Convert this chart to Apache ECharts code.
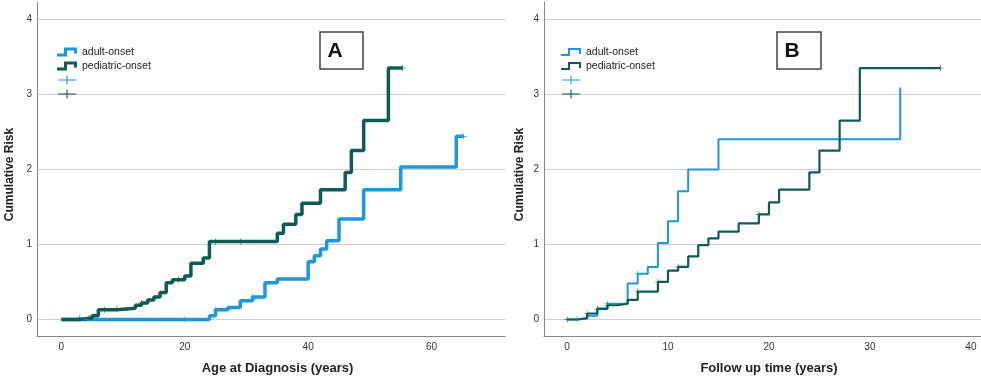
<!DOCTYPE html>
<html>
<head>
<meta charset="utf-8">
<script src="https://cdn.jsdelivr.net/npm/echarts@6/dist/echarts.min.js"></script>
<style>
  html, body { margin: 0; padding: 0; background: #fff; }
  #main { width: 981px; height: 380px; }
</style>
</head>
<body>
<div id="main"></div>
<script>
// panel A : age at diagnosis
var pedAgeX = [0, 3, 5, 6, 9, 12, 13, 14, 15, 16, 17, 18, 20, 21, 23, 24, 35, 36, 38, 39, 42, 46, 47, 49, 53, 55.3];
var pedAgeY = [0, 0.02, 0.05, 0.13, 0.15, 0.19, 0.22, 0.26, 0.30, 0.36, 0.49, 0.53, 0.58, 0.75, 0.82, 1.04, 1.15, 1.27, 1.40, 1.55, 1.73, 1.96, 2.25, 2.65, 3.35, 3.35];
var adultAgeX = [0, 24, 25, 27, 29, 31, 33, 35, 40, 41, 42, 43, 45, 49, 55, 64, 65.2];
var adultAgeY = [0, 0.05, 0.13, 0.16, 0.25, 0.30, 0.49, 0.54, 0.77, 0.85, 0.94, 1.05, 1.34, 1.73, 2.03, 2.44, 2.44];
var pedAgeCensX = [3, 4.5, 7, 9, 13, 19, 25, 29, 55.3];
var pedAgeCensY = [0.02, 0.02, 0.13, 0.15, 0.22, 0.53, 1.04, 1.04, 3.35];
var adultAgeCensX = [4, 20, 25, 31, 44, 65.2];
var adultAgeCensY = [0, 0, 0.13, 0.30, 1.05, 2.44];

// panel B : follow up time
var pedFuX = [0, 1, 2, 3, 4, 5, 6, 7, 9, 10, 11, 12, 13, 14, 15, 17, 19, 20, 21, 24, 25, 27, 29, 37];
var pedFuY = [0, 0.02, 0.08, 0.14, 0.19, 0.21, 0.26, 0.37, 0.50, 0.65, 0.70, 0.84, 0.99, 1.08, 1.17, 1.28, 1.40, 1.56, 1.73, 1.96, 2.25, 2.65, 3.35, 3.35];
var adultFuX = [0, 1, 2, 3, 4, 6, 7, 8, 9, 10, 11, 12, 15, 33];
var adultFuY = [0, 0.01, 0.05, 0.15, 0.21, 0.48, 0.61, 0.70, 1.02, 1.31, 1.71, 2.00, 2.40, 3.09];
var pedFuCensX = [0, 2, 3, 4, 7, 9, 11, 19, 37];
var pedFuCensY = [0, 0.08, 0.14, 0.19, 0.37, 0.50, 0.70, 1.40, 3.35];
var adultFuCensX = [1, 4, 7];
var adultFuCensY = [0.01, 0.21, 0.61];

var yTicks = [0, 1, 2, 3, 4];
var xTicksA = [0, 20, 40, 60];
var xTicksB = [0, 10, 20, 30, 40];

var blue = '#1e96e0';
var teal = '#0f5c55';
var stepIconA = 'path://M0,6H7V0H20V6H17V3H10V9H0Z';
var stepIconB = 'path://M0,6H7V0H20V6H18V2H9V8H0Z';
var plusIcon = 'path://M0,4.4H20V5.6H0Z M9.4,0H10.6V10H9.4Z';
var censSymbol = 'path://M0,4.5H10V5.5H0Z M4.5,0H5.5V10H4.5Z';

function pairs(xs, ys) {
    var out = [];
    for (var i = 0; i < xs.length; i++) out.push([xs[i], ys[i]]);
    return out;
}

function xAxisOf(grid, min, max, ticks, name, px) {
    return {
        type: 'value', gridIndex: grid, min: min, max: max,
        name: name, nameLocation: 'middle', nameGap: 26,
        nameTextStyle: { color: '#222', fontSize: 13, fontWeight: 'bold', padding: [0, 0, 0, px] },
        axisLine: { onZero: false, lineStyle: { color: '#888' } },
        axisTick: { show: false, customValues: ticks },
        axisLabel: { customValues: ticks, color: '#333', fontSize: 10, margin: 6 },
        splitLine: { show: false }
    };
}

function yAxisOf(grid, gap) {
    return {
        type: 'value', gridIndex: grid, min: -0.22, max: 4.23,
        name: 'Cumulative Risk', nameLocation: 'middle', nameGap: gap,
        nameTextStyle: { color: '#222', fontSize: 12, fontWeight: 'bold', padding: [0, 0, 0, -11] },
        axisLine: { show: true, onZero: false, lineStyle: { color: '#888' } },
        axisTick: { show: false, customValues: yTicks },
        axisLabel: { customValues: yTicks, color: '#333', fontSize: 10, margin: 5 },
        splitLine: { show: true, lineStyle: { color: '#cfcfcf', width: 1 } }
    };
}

function stepLine(name, color, width, xi, data) {
    return {
        name: name, type: 'line', step: 'end', xAxisIndex: xi, yAxisIndex: xi,
        data: data, showSymbol: false, symbol: 'none',
        color: color, itemStyle: { color: color },
        lineStyle: { color: color, width: width }, z: 3
    };
}

function censors(name, color, size, xi, data) {
    return {
        name: name, type: 'scatter', xAxisIndex: xi, yAxisIndex: xi,
        data: data, symbol: censSymbol, symbolSize: size,
        color: color, itemStyle: { color: color, opacity: 1 }, z: 4
    };
}

function legendOf(left, icon) {
    return {
        orient: 'vertical', left: left, top: 41,
        itemWidth: 20, itemHeight: 9, itemGap: 2,
        textStyle: { color: '#222', fontSize: 10.5, lineHeight: 12 },
        formatter: function (n) { return n.indexOf('cens') >= 0 ? ' ' : n; },
        selectedMode: false,
        data: [
            { name: 'adult-onset', icon: icon },
            { name: 'pediatric-onset', icon: icon },
            { name: 'adult-onset cens', icon: plusIcon, itemStyle: { color: blue, opacity: 1 } },
            { name: 'pediatric-onset cens', icon: plusIcon, itemStyle: { color: teal, opacity: 1 } }
        ]
    };
}

var myChart = echarts.init(document.getElementById('main'));
var option = {
    backgroundColor: '#fff',
    animation: false,
    textStyle: { fontFamily: 'Liberation Sans, Arial, sans-serif' },
    grid: [
        { left: 37, top: 2, width: 468, height: 335 },
        { left: 544, top: 2, width: 437, height: 335 }
    ],
    xAxis: [
        xAxisOf(0, -3.94, 71.9, xTicksA, 'Age at Diagnosis (years)', 13),
        xAxisOf(1, -2.28, 41.0, xTicksB, 'Follow up time (years)', 13)
    ],
    yAxis: [yAxisOf(0, 21), yAxisOf(1, 18)],
    legend: [legendOf(52, stepIconA), legendOf(556, stepIconB)],
    graphic: [
        { type: 'rect', shape: { x: 320, y: 32, width: 43, height: 37 },
          style: { fill: '#fff', stroke: '#444', lineWidth: 1.5 } },
        { type: 'text', x: 335, y: 51,
          style: { text: 'A', fill: '#111', font: 'bold 21px Liberation Sans, Arial', align: 'center', verticalAlign: 'middle' } },
        { type: 'rect', shape: { x: 777, y: 32, width: 44, height: 37 },
          style: { fill: '#fff', stroke: '#444', lineWidth: 1.5 } },
        { type: 'text', x: 792, y: 51,
          style: { text: 'B', fill: '#111', font: 'bold 21px Liberation Sans, Arial', align: 'center', verticalAlign: 'middle' } }
    ],
    series: [
        stepLine('adult-onset', blue, 3.5, 0, pairs(adultAgeX, adultAgeY)),
        stepLine('pediatric-onset', teal, 3.5, 0, pairs(pedAgeX, pedAgeY)),
        censors('adult-onset cens', blue, 6, 0, pairs(adultAgeCensX, adultAgeCensY)),
        censors('pediatric-onset cens', teal, 6, 0, pairs(pedAgeCensX, pedAgeCensY)),
        stepLine('adult-onset', blue, 2, 1, pairs(adultFuX, adultFuY)),
        stepLine('pediatric-onset', teal, 2.2, 1, pairs(pedFuX, pedFuY)),
        censors('adult-onset cens', blue, 6, 1, pairs(adultFuCensX, adultFuCensY)),
        censors('pediatric-onset cens', teal, 6, 1, pairs(pedFuCensX, pedFuCensY))
    ]
};
myChart.setOption(option);
</script>
</body>
</html>
